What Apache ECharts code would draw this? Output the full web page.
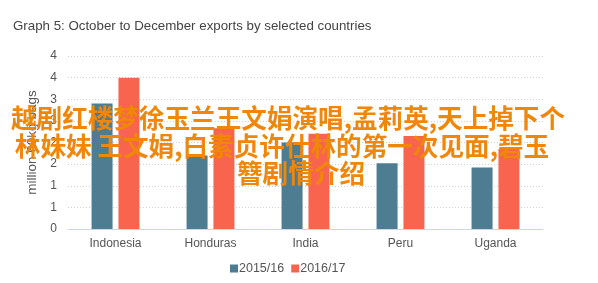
<!DOCTYPE html>
<html>
<head>
<meta charset="utf-8">
<script src="https://cdn.jsdelivr.net/npm/echarts@6/dist/echarts.min.js"></script>
<style>html,body{margin:0;padding:0;background:#fff;}#c{width:598px;height:283px;}</style>
</head>
<body>
<div id="c"></div>
<script>
const categories = ['Indonesia', 'Honduras', 'India', 'Peru', 'Uganda'];
const seriesNames = ['2015/16', '2016/17'];
const values1516 = [2.9, 1.7, 2.0, 1.52, 1.42];
const values1617 = [3.5, 2.33, 2.2, 2.15, 1.85];
const titleText = 'Graph 5: October to December exports by selected countries';
const yAxisName = 'million 60kg bags';
const overlayLines = ['越剧红楼梦徐玉兰王文娟演唱,孟莉英,天上掉下个', '林妹妹 王文娟,白素贞许仕林的第一次见面,碧玉', '簪剧情介绍'];

const chart = echarts.init(document.getElementById('c'), null, {renderer: 'canvas'});
const font = '"Liberation Sans", Arial, sans-serif';
const cjk = '"Noto Sans CJK SC", sans-serif';
const overlayPos = [[288, 118], [282, 146], [301, 173]];
chart.setOption({
  animation: false,
  backgroundColor: '#fff',
  title: {
    text: titleText, left: 8, top: 15,
    textStyle: {fontFamily: font, fontSize: 13.3, fontWeight: 'normal', color: '#444'}
  },
  legend: {
    data: seriesNames, left: 225, bottom: 3, itemWidth: 8, itemHeight: 8, itemGap: 7,
    icon: 'rect',
    textStyle: {fontFamily: font, fontSize: 12.5, color: '#555', padding: [0, 0, 0, -4]}
  },
  grid: {left: 68, right: 55, top: 56, bottom: 54},
  xAxis: {
    type: 'category', data: categories,
    axisLine: {lineStyle: {color: '#ccd6eb'}},
    axisTick: {show: false},
    axisLabel: {fontFamily: font, fontSize: 12, color: '#555', margin: 9}
  },
  yAxis: {
    type: 'value', min: 0, max: 4, interval: 0.5,
    name: yAxisName, nameLocation: 'middle', nameGap: 27, nameRotate: 90,
    nameTextStyle: {fontFamily: font, fontSize: 13.5, color: '#555'},
    axisLine: {show: false}, axisTick: {show: false},
    axisLabel: {fontFamily: font, fontSize: 12, color: '#555', margin: 11, formatter: v => String(Math.round(v))},
    splitLine: {lineStyle: {color: '#d0d0d0', type: [1, 2]}}
  },
  series: [
    {name: seriesNames[0], type: 'bar', data: values1516, barWidth: 21, barGap: '28%', itemStyle: {color: '#4e7d91'}},
    {name: seriesNames[1], type: 'bar', data: values1617, barWidth: 21, itemStyle: {color: '#f9644f'}}
  ],
  graphic: overlayLines.map((t, i) => ({
    type: 'text', x: overlayPos[i][0], y: overlayPos[i][1], z: 100,
    style: {text: t, fill: '#f0860a', font: 'bold 25.6px ' + cjk, textAlign: 'center', textVerticalAlign: 'middle'}
  }))
});
</script>
</body>
</html>
